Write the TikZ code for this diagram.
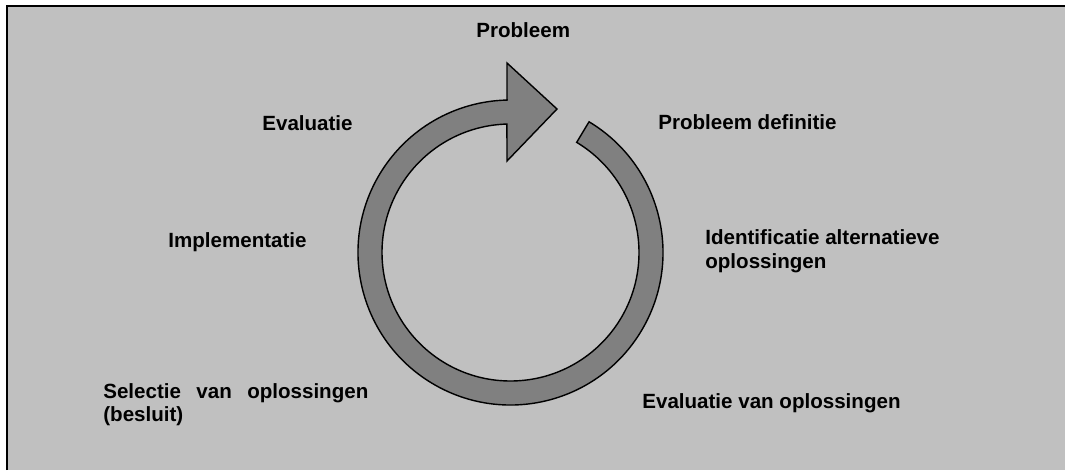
\documentclass[tikz,border=0pt]{standalone}
\usepackage{fontspec}
\setmainfont{Liberation Sans}
\definecolor{panel}{RGB}{192,192,192}
\definecolor{ring}{RGB}{128,128,128}
\tikzset{stage/.style={font=\bfseries\fontsize{11.7}{13.1}\selectfont, inner sep=0pt, anchor=base west}}

\begin{document}
\begin{tikzpicture}
\useasboundingbox (0,0) rectangle (21.3,9.4);
\fill [panel] (0.14,0) rectangle (21.3,9.28);
\draw [line width=1.1pt] (0.14,0) to (0.14,9.28) to (21.3,9.28);
% cycle arrow
\begin{scope}[shift={(10.21,4.35)}]
\filldraw [fill=ring, line width=0.8pt, line join=miter]
  (59:3.05) arc [start angle=59, end angle=-268.7, radius=3.05]
  -- (-0.07,3.79) -- (0.93,2.87) -- (-0.07,1.83)
  -- (91.6:2.57) arc [start angle=91.6, end angle=419, radius=2.57] -- cycle;
\end{scope}
\node [stage] (probleem) at (9.52,8.66) {Probleem};
\node [stage] (definitie) at (13.16,6.82) {Probleem definitie};
\node [stage, align=left] (alternatieven) at (14.1,4.04) {Identificatie alternatieve\\oplossingen};
\node [stage] (beoordeling) at (12.84,1.24) {Evaluatie van oplossingen};
\node [stage, text width=5.3cm, align=justify] (selectie) at (2.06,1.44) {Selectie van oplossingen (besluit)};
\node [stage] (implementatie) at (3.36,4.46) {Implementatie};
\node [stage] (evaluatie) at (5.24,6.8) {Evaluatie};
\end{tikzpicture}
\end{document}
